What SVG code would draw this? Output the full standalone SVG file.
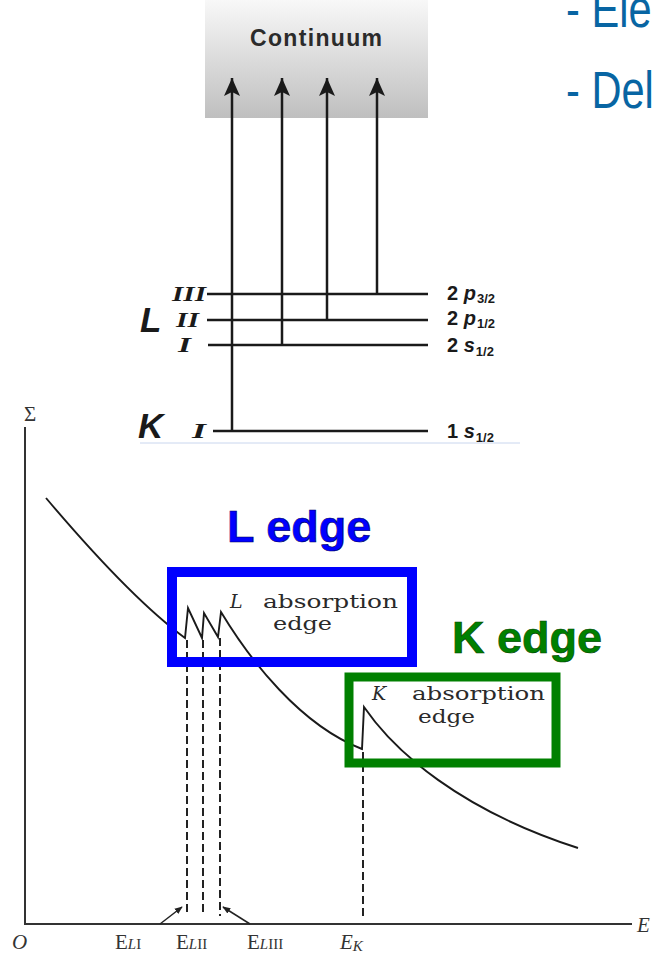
<svg xmlns="http://www.w3.org/2000/svg" width="653" height="955" viewBox="0 0 653 955">
<defs>
<linearGradient id="cg" x1="0" y1="0" x2="0" y2="1">
<stop offset="0" stop-color="#f8f8f8"/>
<stop offset="1" stop-color="#bfbfbf"/>
</linearGradient>
<marker id="ah" viewBox="0 0 18 16" refX="18" refY="8" markerWidth="18" markerHeight="16" markerUnits="userSpaceOnUse" orient="auto">
<path d="M18,8 L0,0 L4,8 L0,16 Z" fill="#1a1a1a"/>
</marker>
<marker id="sa" viewBox="0 0 10 10" refX="9" refY="5" markerWidth="8" markerHeight="8" markerUnits="userSpaceOnUse" orient="auto">
<path d="M0,1 L10,5 L0,9 Z" fill="#222"/>
</marker>
<style>
.sans{font-family:"Liberation Sans",Arial,sans-serif}
.lvl{stroke:#1a1a1a;stroke-width:2.5;fill:none}
.up{stroke:#1a1a1a;stroke-width:2.5;fill:none}
.rl{font-family:"Liberation Sans",Arial,sans-serif;font-weight:bold;font-size:20px;fill:#1a1a1a}
.rl .it{font-style:italic}
.rl .sb{font-size:13px}
.rom{font-family:"Liberation Serif","Times New Roman",serif;font-style:italic;font-weight:bold;font-size:21px;fill:#1a1a1a}
.big{font-family:"Liberation Sans",Arial,sans-serif;font-weight:bold;font-style:italic;font-size:35px;fill:#1a1a1a}
.dash{stroke:#222;stroke-width:2;stroke-dasharray:8,4;fill:none}
.curve{stroke:#1a1a1a;stroke-width:1.9;fill:none;stroke-linejoin:miter}
.ax{stroke:#333;stroke-width:2;fill:none}
.cm{font-family:"DejaVu Serif","Liberation Serif",serif;font-size:19px;fill:#2a2a2a}
.axl{font-family:"Liberation Serif","Times New Roman",serif;font-size:21px;fill:#333}
.axl .s{font-size:15px}
</style>
</defs>

<g id="header">
<text class="sans" font-size="52" fill="#0865a3" transform="translate(566,27) scale(0.8,1)">- Ele</text>
<text class="sans" font-size="52" fill="#0865a3" transform="translate(566,108) scale(0.8,1)">- Del</text>
</g>

<g id="continuum">
<rect x="205" y="0" width="223" height="118" fill="url(#cg)"/>
<text x="316" y="46" class="sans" font-weight="bold" font-size="23" fill="#2b2b2b" text-anchor="middle" textLength="132">Continuum</text>
</g>

<g id="levels">
<line class="lvl" x1="207" y1="294" x2="428" y2="294"/>
<line class="lvl" x1="207" y1="320" x2="428" y2="320"/>
<line class="lvl" x1="208" y1="345" x2="428" y2="345"/>
<line class="lvl" x1="213" y1="431" x2="428" y2="431"/>
<line x1="140" y1="443" x2="520" y2="443" stroke="#c9d6ee" stroke-width="1"/>
<text class="big" x="140" y="332">L</text>
<text class="big" x="138" y="438">K</text>
<text class="rom" x="172" y="301" textLength="34" lengthAdjust="spacingAndGlyphs">III</text>
<text class="rom" x="176" y="327" textLength="23" lengthAdjust="spacingAndGlyphs">II</text>
<text class="rom" x="178" y="352" textLength="13" lengthAdjust="spacingAndGlyphs">I</text>
<text class="rom" x="192" y="438" textLength="14" lengthAdjust="spacingAndGlyphs">I</text>
<text class="rl" x="447" y="300">2 <tspan class="it">p</tspan><tspan class="sb" dx="1" dy="3">3/2</tspan></text>
<text class="rl" x="447" y="325">2 <tspan class="it">p</tspan><tspan class="sb" dx="1" dy="3">1/2</tspan></text>
<text class="rl" x="447" y="352">2 <tspan class="it">s</tspan><tspan class="sb" dx="1" dy="4">1/2</tspan></text>
<text class="rl" x="447" y="438">1 <tspan class="it">s</tspan><tspan class="sb" dx="1" dy="4">1/2</tspan></text>
</g>

<g id="transitions">
<line class="up" x1="232" y1="431" x2="232" y2="78" marker-end="url(#ah)"/>
<line class="up" x1="282" y1="345" x2="282" y2="78" marker-end="url(#ah)"/>
<line class="up" x1="327" y1="320" x2="327" y2="78" marker-end="url(#ah)"/>
<line class="up" x1="377" y1="294" x2="377" y2="78" marker-end="url(#ah)"/>
</g>

<g id="graph-axes">
<line class="ax" x1="25" y1="427" x2="25" y2="925"/>
<line class="ax" x1="24" y1="924" x2="632" y2="924"/>
<text x="30" y="421" font-family="Liberation Serif,serif" font-size="21" fill="#333" text-anchor="middle">Σ</text>
<text x="12" y="949" font-family="Liberation Serif,serif" font-size="21" font-style="italic" fill="#333">O</text>
<text x="637" y="932" font-family="Liberation Serif,serif" font-size="21" font-style="italic" fill="#333">E</text>
<text class="axl" x="115" y="949">E<tspan class="s" font-style="italic">L</tspan><tspan class="s">I</tspan></text>
<text class="axl" x="176" y="949">E<tspan class="s" font-style="italic">L</tspan><tspan class="s">II</tspan></text>
<text class="axl" x="247" y="949">E<tspan class="s" font-style="italic">L</tspan><tspan class="s">III</tspan></text>
<text class="axl" x="340" y="949" font-style="italic">E<tspan class="s" dy="2">K</tspan></text>
</g>

<g id="edge-lines">
<line class="dash" x1="187" y1="640" x2="187" y2="916"/>
<line class="dash" x1="203" y1="640" x2="203" y2="916"/>
<line class="dash" x1="220" y1="638" x2="220" y2="916"/>
<line class="dash" x1="363" y1="752" x2="363" y2="916"/>
<line x1="160" y1="924" x2="182" y2="907" stroke="#222" stroke-width="1.5" marker-end="url(#sa)"/>
<line x1="250" y1="924" x2="223" y2="907" stroke="#222" stroke-width="1.5" marker-end="url(#sa)"/>
</g>

<g id="absorption-curve">
<path class="curve" d="M46,498 C90,550 140,605 185,638 L188,608 L202,638 L204,613 L218,637 L221,612 C250,660 300,725 362,749 L364,707 C395,752 460,810 578,848"/>
</g>

<g id="l-edge">
<rect x="172" y="572" width="240" height="90" fill="none" stroke="#0000ff" stroke-width="10"/>
<text class="sans" x="227" y="542" font-weight="bold" font-size="45" fill="#0000ff" stroke="#000060" stroke-width="0.6">L edge</text>
<text class="cm" x="230" y="608" font-style="italic">L</text>
<text class="cm" x="263" y="608" textLength="135" lengthAdjust="spacingAndGlyphs">absorption</text>
<text class="cm" x="273" y="630" textLength="59" lengthAdjust="spacingAndGlyphs">edge</text>
</g>

<g id="k-edge">
<rect x="349" y="677" width="207" height="86" fill="none" stroke="#008000" stroke-width="9"/>
<text class="sans" x="452" y="653" font-weight="bold" font-size="45" fill="#008000" stroke="#004000" stroke-width="0.6">K edge</text>
<text class="cm" x="372" y="700" font-style="italic">K</text>
<text class="cm" x="412" y="700" textLength="133" lengthAdjust="spacingAndGlyphs">absorption</text>
<text class="cm" x="418" y="723" textLength="57" lengthAdjust="spacingAndGlyphs">edge</text>
</g>
</svg>
